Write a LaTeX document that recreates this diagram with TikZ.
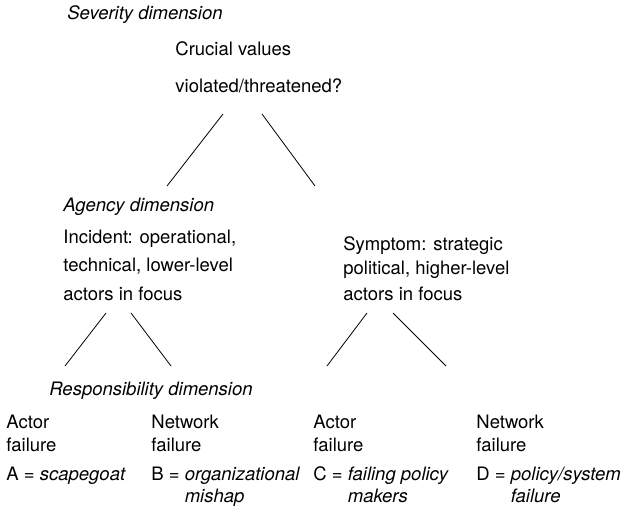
\documentclass[tikz,border=0pt]{standalone}
\usepackage{fontspec}
\setmainfont{TeX Gyre Heros}
\usetikzlibrary{positioning}

\tikzset{
    txt/.style={anchor=base west, inner sep=0pt, align=left,
        font=\fontsize{18.5}{#1}\selectfont},
    txt/.default=23,
    dimtxt/.style={txt, font=\fontsize{18.5}{22}\selectfont\itshape}
}

\begin{document}
\begin{tikzpicture}[x=1pt, y=1pt, line width=0.8pt]
                        \useasboundingbox (0,0) rectangle (624,-513);
                        % dimension headings
                        \node[dimtxt] (sev) at (67, -20) {Severity dimension};
                        \node[dimtxt] (agy) at (63, -212) {Agency dimension};
                        \node[dimtxt] (rsp) at (49, -395) {Responsibility dimension};
                        % tree texts (placed at the baseline of the last line)
                        \node[txt=37] (q) at (175, -93) {Crucial values\\violated/threatened?};
                        \node[txt=28.5] (inc) at (63, -300) {Incident: operational,\\technical, lower-level\\actors in focus};
                        \node[txt=25] (sym) at (343, -300) {Symptom: strategic\\political, higher-level\\actors in focus};
                        \node[txt] (fa) at (6, -451) {Actor\\failure};
                        \node[txt] (fb) at (151, -451) {Network\\failure};
                        \node[txt] (fc) at (313, -451) {Actor\\failure};
                        \node[txt] (fd) at (476, -451) {Network\\failure};
                        \node[txt=22] (ta) at (6, -480) {A = \textit{scapegoat}};
                        \node[txt=22] (tb) at (151, -502) {B = \textit{organizational}\\\phantom{B = }\textit{mishap}};
                        \node[txt=22] (tc) at (313, -502) {C = \textit{failing policy}\\\phantom{C = }\textit{makers}};
                        \node[txt=22] (td) at (476, -502) {D = \textit{policy/system}\\\phantom{D = }\textit{failure}};
                        % branch ends
                        \coordinate (ql) at (223, -114);
                        \coordinate (qr) at (262, -114);
                        \coordinate (il) at (167, -186);
                        \coordinate (sr) at (315, -186);
                        \coordinate (inl) at (106, -313);
                        \coordinate (inr) at (131, -313);
                        \coordinate (syl) at (367, -313);
                        \coordinate (syr) at (393, -313);
                        \coordinate (al) at (65, -366);
                        \coordinate (bl) at (171, -366);
                        \coordinate (cl) at (327, -366);
                        \coordinate (dl) at (446, -366);
                        \draw
                        (ql) -- (il) (qr) -- (sr)
                        (inl) -- (al) (inr) -- (bl)
                        (syl) -- (cl) (syr) -- (dl);
                    \end{tikzpicture}
\end{document}
